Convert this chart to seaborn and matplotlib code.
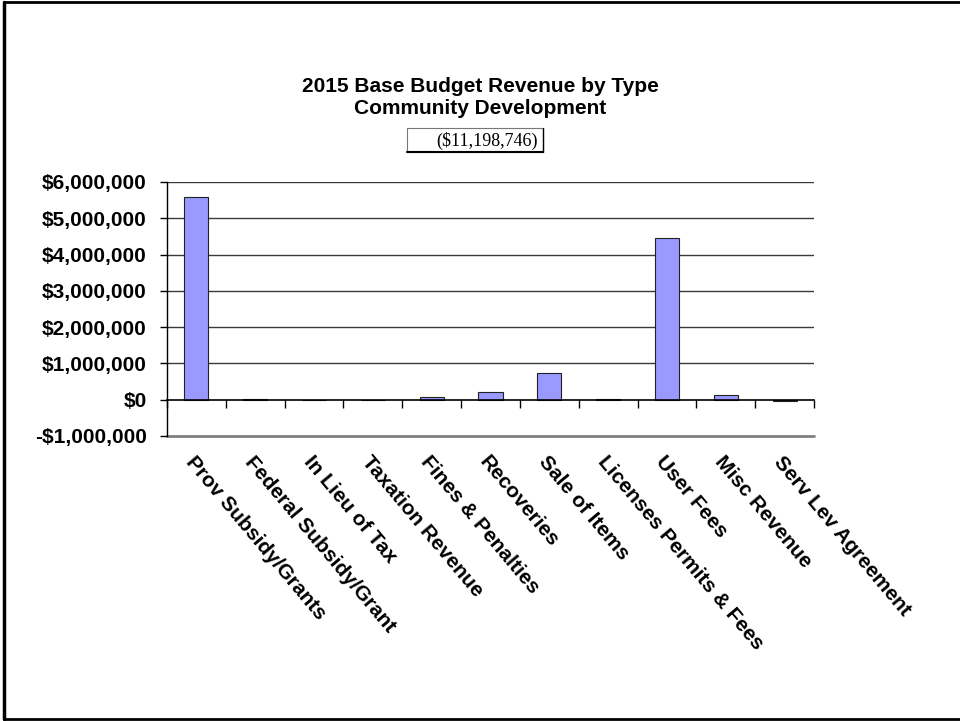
import matplotlib
matplotlib.use("Agg")
import matplotlib.pyplot as plt
from matplotlib.lines import Line2D
from matplotlib.patches import Rectangle
from matplotlib.ticker import FuncFormatter, FixedLocator
import seaborn as sns
import pandas as pd

categories = [
    "Prov Subsidy/Grants", "Federal Subsidy/Grant", "In Lieu of Tax",
    "Taxation Revenue", "Fines & Penalties", "Recoveries", "Sale of Items",
    "Licenses Permits & Fees", "User Fees", "Misc Revenue", "Serv Lev Agreement",
]
revenue = [5600000, 20000, 0, 0, 70000, 200000, 745000, 15000, 4460000, 120000, -25000]
y_ticks = [-1000000, 0, 1000000, 2000000, 3000000, 4000000, 5000000, 6000000]
title_lines = ["2015 Base Budget Revenue by Type", "Community Development"]
total_label = "($11,198,746)"

df = pd.DataFrame({"category": categories, "revenue": revenue})

sns.set_theme(style="white")
plt.rcParams["font.family"] = ["Liberation Sans", "DejaVu Sans"]

W, H = 960, 721
fig = plt.figure(figsize=(W / 100, H / 100), dpi=100)
fig.patch.set_facecolor("white")

ax = fig.add_axes([167 / W, 1 - 436 / H, (814 - 167) / W, (436 - 182) / H])
ax.set_facecolor("white")

sns.barplot(data=df, x="category", y="revenue", color="#9999FF",
            saturation=1, edgecolor="#222222", linewidth=0.8, width=0.41, ax=ax)

ax.set_xlim(-0.5, len(categories) - 0.5)
ax.set_ylim(y_ticks[0], y_ticks[-1])
ax.set_xlabel("")
ax.set_ylabel("")

# horizontal gridlines
for v in y_ticks[2:]:
    ax.axhline(v, color="#3a3a3a", linewidth=1.0, zorder=0)
ax.axhline(y_ticks[0], color="#808080", linewidth=2.0, zorder=0, clip_on=False)

for s in ["top", "right"]:
    ax.spines[s].set_visible(False)
ax.spines["left"].set_color("black")
ax.spines["left"].set_linewidth(1.0)
ax.spines["bottom"].set_position(("data", 0))
ax.spines["bottom"].set_color("black")
ax.spines["bottom"].set_linewidth(1.2)

ax.yaxis.set_major_locator(FixedLocator(y_ticks))
ax.yaxis.set_major_formatter(FuncFormatter(
    lambda v, _: ("-$" if v < 0 else "$") + f"{abs(int(round(v))):,}"))
ax.tick_params(axis="y", which="major", left=True, length=5, width=1,
               color="black", direction="out", pad=9.5, labelsize=15,
               labelcolor="black")
for lab in ax.get_yticklabels():
    lab.set_fontweight("bold")

# category labels hang below, tick marks sit between categories
ax.set_xticks(range(len(categories)))
ax.set_xticks([i + 0.5 for i in range(-1, len(categories))], minor=True)
ax.tick_params(axis="x", which="major", bottom=True, length=0, pad=38,
               labelsize=15, labelcolor="black")
ax.tick_params(axis="x", which="minor", bottom=True, length=6, width=1,
               color="black", direction="out")
for lab in ax.get_xticklabels():
    lab.set_rotation(-50)
    lab.set_ha("left")
    lab.set_va("top")
    lab.set_rotation_mode("anchor")
    lab.set_fontweight("bold")

# titles
fig.text(480 / W, 1 - 86 / H, title_lines[0], ha="center", va="center",
         fontsize=15, fontweight="bold", color="black")
fig.text(480 / W, 1 - 109 / H, title_lines[1], ha="center", va="center",
         fontsize=15, fontweight="bold", color="black")

# boxed total
fig.add_artist(Rectangle((407 / W, 1 - 152 / H), (543 - 407) / W, (152 - 128) / H,
                         transform=fig.transFigure, facecolor="white",
                         edgecolor="#777777", linewidth=0.8))
fig.add_artist(Line2D([407 / W, 543 / W], [1 - 152 / H, 1 - 152 / H],
                      transform=fig.transFigure, color="black", linewidth=1.5))
fig.add_artist(Line2D([543 / W, 543 / W], [1 - 128 / H, 1 - 152 / H],
                      transform=fig.transFigure, color="black", linewidth=1.0))
fig.text(538 / W, 1 - 141 / H, total_label, ha="right", va="center",
         fontsize=13, family=["Liberation Serif", "DejaVu Serif"], color="black")

# page frame
fig.add_artist(Line2D([4 / W, 4 / W], [1 - 2 / H, 1 - 719 / H],
                      transform=fig.transFigure, color="black", linewidth=2.5))
fig.add_artist(Line2D([4 / W, 1], [1 - 2 / H, 1 - 2 / H],
                      transform=fig.transFigure, color="black", linewidth=2.0))
fig.add_artist(Line2D([4 / W, 1], [1 - 719 / H, 1 - 719 / H],
                      transform=fig.transFigure, color="black", linewidth=2.0))

fig.savefig("out.png", dpi=100, facecolor="white")
